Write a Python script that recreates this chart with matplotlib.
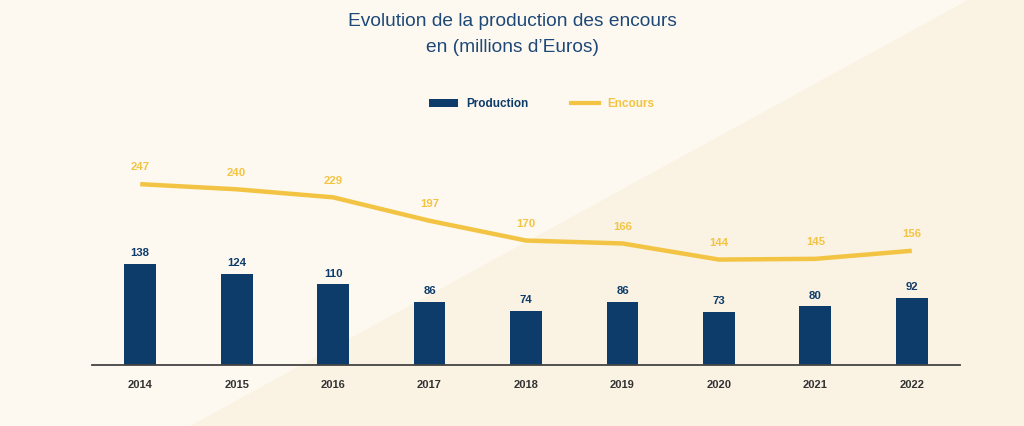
import matplotlib
matplotlib.use("Agg")
import matplotlib.pyplot as plt
from matplotlib.patches import Polygon
from matplotlib.lines import Line2D
from matplotlib.patches import Patch

years = ["2014", "2015", "2016", "2017", "2018", "2019", "2020", "2021", "2022"]
production = [138, 124, 110, 86, 74, 86, 73, 80, 92]
encours = [247, 240, 229, 197, 170, 166, 144, 145, 156]

NAVY = "#0d3b6a"
GOLD = "#f3c443"
TITLE = "#1e4877"

plt.rcParams["font.family"] = ["Liberation Sans", "DejaVu Sans"]

fig = plt.figure(figsize=(10.24, 4.26), dpi=100)
fig.patch.set_facecolor("#fdf9f1")

# diagonal background split
bg = fig.add_axes([0, 0, 1, 1], zorder=-1)
bg.set_xlim(0, 1024)
bg.set_ylim(426, 0)
bg.axis("off")
bg.add_patch(Polygon([(968, 0), (1024, 0), (1024, 426), (190, 426)],
                     closed=True, facecolor="#faf2e3", edgecolor="none"))

ax = fig.add_axes([92 / 1024, 61 / 426, 868 / 1024, 205 / 426])
ax.set_facecolor("none")
x = list(range(len(years)))

ax.bar(x, production, width=0.33, color=NAVY, zorder=2)
ax.plot(x, encours, color=GOLD, lw=3.2, solid_joinstyle="round",
        solid_capstyle="butt", zorder=3)

for xi, v in zip(x, production):
    ax.text(xi, v + 8, str(v), ha="center", va="bottom", fontsize=8.2,
            fontweight="bold", color=NAVY)
for xi, v in zip(x, encours):
    ax.text(xi, v + 16, str(v), ha="center", va="bottom", fontsize=8.2,
            fontweight="bold", color=GOLD)

ax.set_xlim(-0.5, 8.5)
ax.set_ylim(0, 280)
ax.set_xticks(x)
ax.set_xticklabels(years, fontsize=8, fontweight="bold", color="#333333")
ax.tick_params(axis="x", length=0, pad=11)
ax.set_yticks([])
for s in ["top", "right", "left"]:
    ax.spines[s].set_visible(False)
ax.spines["bottom"].set_color("#444444")
ax.spines["bottom"].set_linewidth(1.3)

fig.text(0.5, 1 - 22 / 426, "Evolution de la production des encours", ha="center",
         va="center", fontsize=13.8, color=TITLE)
fig.text(0.5, 1 - 47 / 426, "en (millions d\u2019Euros)", ha="center",
         va="center", fontsize=13.8, color=TITLE)

handles = [Patch(facecolor=NAVY, edgecolor="none"),
           Line2D([0], [0], color=GOLD, lw=3)]
leg = fig.legend(handles, ["Production", "Encours"], loc="center",
                 bbox_to_anchor=(0.529, 1 - 104 / 426), ncol=2, frameon=False,
                 handlelength=2.4, handleheight=0.7, handletextpad=0.7,
                 columnspacing=3.6, prop={"size": 8.5, "weight": "bold"})
for t, c in zip(leg.get_texts(), [NAVY, GOLD]):
    t.set_color(c)

fig.savefig("out.png", dpi=100, facecolor=fig.get_facecolor())
